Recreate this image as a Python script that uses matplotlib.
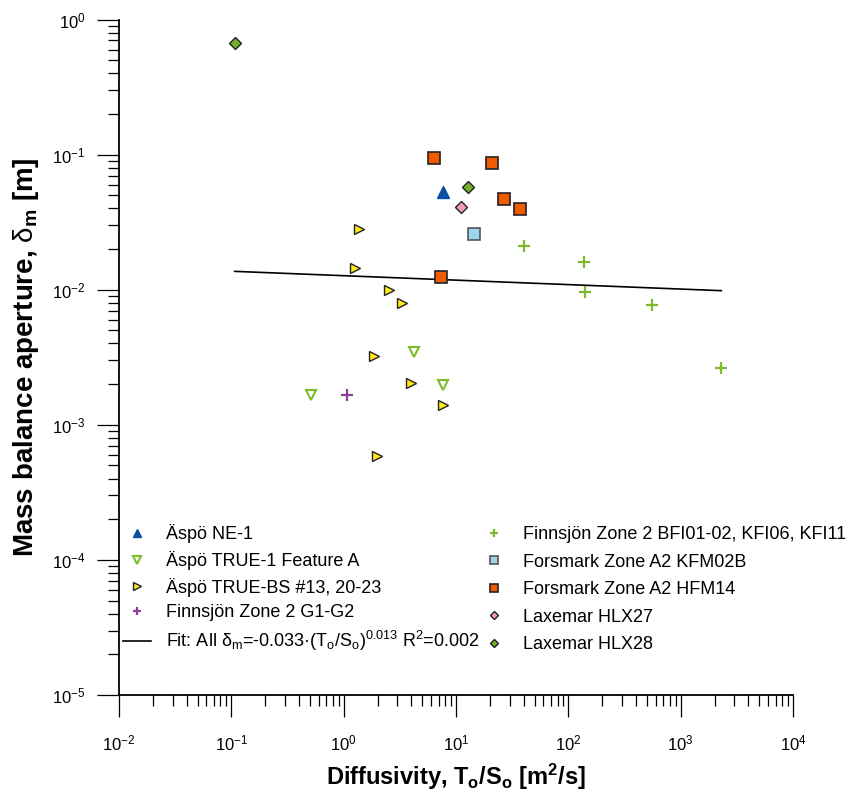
import numpy as np
import matplotlib
matplotlib.use('Agg')
import matplotlib.pyplot as plt

plt.rcParams['font.family'] = ['Liberation Sans', 'DejaVu Sans']
plt.rcParams['mathtext.fontset'] = 'custom'
plt.rcParams['mathtext.rm'] = 'Liberation Sans'
plt.rcParams['mathtext.it'] = 'Liberation Sans:italic'
plt.rcParams['mathtext.bf'] = 'Liberation Sans:bold'
plt.rcParams['axes.unicode_minus'] = False

# Diffusivity T/S [m2/s] and mass balance aperture [m] per site
ne1_x, ne1_y = [7.6], [0.053]
true1_x = [4.23, 7.6, 0.51]
true1_y = [0.00343, 0.00196, 0.00166]
truebs_x = [1.37, 1.26, 2.55, 3.33, 1.86, 3.95, 7.6, 1.99]
truebs_y = [0.028, 0.0146, 0.0100, 0.0080, 0.00323, 0.00205, 0.00139, 0.00059]
g1g2_x, g1g2_y = [1.06], [0.00165]
bfi_x = [40.3, 139, 142, 551, 2300]
bfi_y = [0.021, 0.016, 0.0096, 0.0077, 0.00265]
kfm02b_x, kfm02b_y = [14.3], [0.026]
hfm14_x = [6.4, 20.9, 26.8, 37.2, 7.4]
hfm14_y = [0.0937, 0.086, 0.0466, 0.0393, 0.0124]
hlx27_x, hlx27_y = [11.0], [0.041]
hlx28_x = [0.107, 12.8]
hlx28_y = [0.673, 0.058]

# fitted power law over the data range
fit_x = np.array([0.107, 2300])
fit_c, fit_b = 0.0127, -0.033
fit_y = fit_c * fit_x ** fit_b

fig = plt.figure(figsize=(8.57, 7.94), dpi=100)
ax = fig.add_axes([0.1389, 0.1247, 0.7865, 0.8507])

h = []
h += ax.plot(ne1_x, ne1_y, ls='none', marker='^', ms=8, mfc='#0a50a0', mec='#0a50a0',
             label='Äspö NE-1')
h += ax.plot(true1_x, true1_y, ls='none', marker='v', ms=7.5, mfc='white', mec='#7cbc2c',
             mew=1.5, label='Äspö TRUE-1 Feature A')
h += ax.plot(truebs_x, truebs_y, ls='none', marker='>', ms=7.5, mfc='#ffe81a', mec='#222222',
             mew=1.0, label='Äspö TRUE-BS #13, 20-23')
h += ax.plot(g1g2_x, g1g2_y, ls='none', marker='+', ms=8, mec='#8a3e98', mew=1.6,
             label='Finnsjön Zone 2 G1-G2')
h += ax.plot(fit_x, fit_y, color='black', lw=1.2,
             label='Fit: All $\\mathrm{δ}_\\mathrm{m}$=-0.033·(T$_\\mathrm{o}$/S$_\\mathrm{o}$)'
                   '$^{\\mathrm{0.013}}$ R$^\\mathrm{2}$=0.002')
h += ax.plot(bfi_x, bfi_y, ls='none', marker='+', ms=8.5, mec='#7cbc2c', mew=1.6,
             label='Finnsjön Zone 2 BFI01-02, KFI06, KFI11')
h += ax.plot(kfm02b_x, kfm02b_y, ls='none', marker='s', ms=8, mfc='#9dd5ec', mec='#555555',
             mew=1.2, label='Forsmark Zone A2 KFM02B')
h += ax.plot(hfm14_x, hfm14_y, ls='none', marker='s', ms=8, mfc='#f05a00', mec='#222222',
             mew=1.2, label='Forsmark Zone A2 HFM14')
h += ax.plot(hlx27_x, hlx27_y, ls='none', marker='D', ms=5.8, mfc='#f49ac1', mec='#222222',
             mew=1.0, label='Laxemar HLX27')
h += ax.plot(hlx28_x, hlx28_y, ls='none', marker='D', ms=5.8, mfc='#72ae2a', mec='#222222',
             mew=1.0, label='Laxemar HLX28')

ax.set_xscale('log')
ax.set_yscale('log')
ax.set_xlim(1e-2, 1e4)
ax.set_ylim(1e-5, 1e0)

for s in ['top', 'right']:
    ax.spines[s].set_visible(False)
for s in ['left', 'bottom']:
    ax.spines[s].set_linewidth(1.3)

ax.tick_params(which='major', direction='out', length=16, width=0.9, labelsize=12)
ax.tick_params(which='minor', direction='out', length=8, width=0.9)
ax.tick_params(axis='x', which='major', pad=12)
ax.tick_params(axis='y', which='major', pad=8)

ax.set_xlabel('Diffusivity, $\\mathbf{T_o/S_o}$ [$\\mathbf{m^2/s}$]',
              fontsize=17, fontweight='bold', labelpad=6)
ax.set_ylabel('Mass balance aperture, $\\mathrm{δ}_\\mathbf{m}$ [m]',
              fontsize=20, fontweight='bold', labelpad=8)

# two legend columns placed separately
leg_kw = dict(loc='upper left', frameon=False, fontsize=13, markerscale=0.75,
              handlelength=1.55, handletextpad=0.8,
              borderaxespad=0, borderpad=0)
leg1 = ax.legend(handles=h[:5], bbox_to_anchor=(0.006, 0.253), labelspacing=0.43,
                 **leg_kw)
ax.add_artist(leg1)
ax.legend(handles=h[5:], bbox_to_anchor=(0.536, 0.25), labelspacing=0.58, **leg_kw)

fig.savefig('out.png', dpi=100)
